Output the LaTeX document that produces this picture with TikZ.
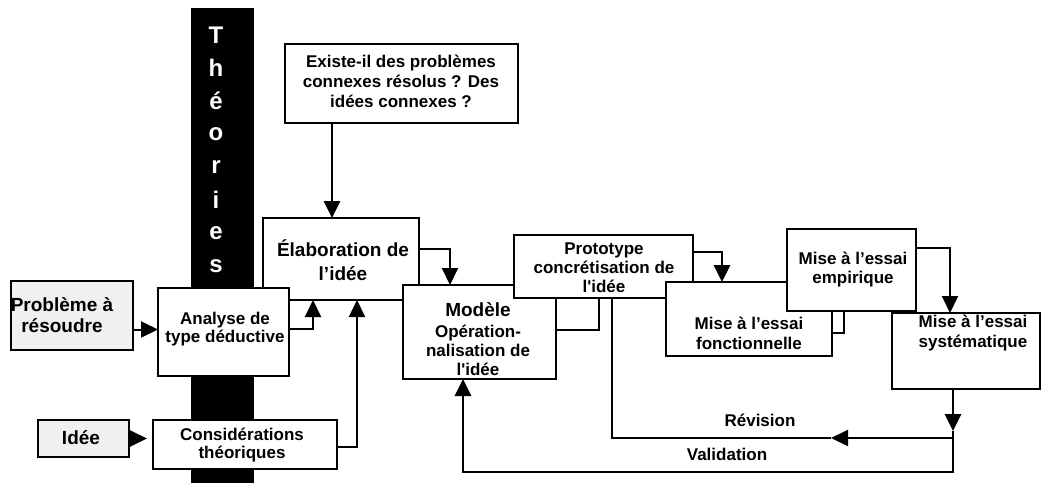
\documentclass[tikz,border=0pt]{standalone}
\usepackage{fontspec}
\setmainfont{Liberation Sans}
\usetikzlibrary{arrows.meta}
\begin{document}
\begin{tikzpicture}[x=1pt,y=-1pt,
  box/.style={draw=black,line width=1.2pt,fill=white,inner sep=0pt,outer sep=0pt,anchor=north west},
  grey box/.style={box,fill=black!6},
  txt/.style={align=center,inner sep=0pt,font=\bfseries\fontsize{17}{19}\selectfont},
  big txt/.style={align=center,inner sep=0pt,font=\bfseries\fontsize{19}{22}\selectfont},
  bar letter/.style={text=white,inner sep=0pt,font=\bfseries\fontsize{24}{24}\selectfont},
  link/.style={line width=2pt},
  heavy link/.style={line width=2.8pt},
  tip/.style={-{Triangle[width=16pt,length=17pt]}},
]
\useasboundingbox[fill=white] (0,0) rectangle (1042,483);

% vertical band "Théories"
\fill[black] (191,8) rectangle (254,483);
\foreach \ch [count=\i] in {T,h,é,o,r,i,e,s}
  \node[bar letter] (theo\i) at (216,{35+33*(\i-1)}) {\ch};

% boxes and their texts
\node[box,minimum width=233,minimum height=79] (existe) at (285,44) {};
\node[txt,font=\bfseries\fontsize{17}{20}\selectfont] (existe-t) at (401,81)
  {Existe-il des problèmes\\connexes résolus ? Des\\idées connexes ?};

\node[box,minimum width=156,minimum height=82] (elab) at (263,218) {};
\node[big txt,font=\bfseries\fontsize{19}{24}\selectfont] (elab-t) at (343,260) {Élaboration de\\l’idée};

\node[box,minimum width=153,minimum height=94] (modele) at (403,285) {};
\node[big txt] (modele-t) at (478,310) {Modèle};
\node[txt] (modele-s) at (478,350) {Opération-\\nalisation de\\l\textquotesingle idée};

\node[box,minimum width=179,minimum height=63] (proto) at (514,235) {};
\node[txt] (proto-t) at (604,268) {Prototype\\concrétisation de\\l\textquotesingle idée};

\node[box,minimum width=166,minimum height=74] (fonct) at (666,282) {};
\node[txt,font=\bfseries\fontsize{17}{20}\selectfont] (fonct-t) at (749,333) {Mise à l’essai\\fonctionnelle};

\node[box,minimum width=129,minimum height=82] (empir) at (787,229) {};
\node[txt] (empir-t) at (853,270) {Mise à l’essai\\empirique};

\node[box,minimum width=148,minimum height=76] (sys) at (892,313) {};
\node[txt,font=\bfseries\fontsize{17}{20}\selectfont] (sys-t) at (973,333) {Mise à l’essai\\systématique};

\node[box,minimum width=131,minimum height=88] (analyse) at (158,288) {};
\node[txt,font=\bfseries\fontsize{17}{18}\selectfont] (analyse-t) at (225,329) {Analyse de\\type déductive};

\node[box,minimum width=184,minimum height=49] (consid) at (153,420) {};
\node[txt,font=\bfseries\fontsize{17}{18}\selectfont] (consid-t) at (242,445) {Considérations\\théoriques};

\node[grey box,minimum width=122,minimum height=69] (probleme) at (11,281) {};
\node[big txt,font=\bfseries\fontsize{19}{21}\selectfont] (probleme-t) at (62,315) {Problème à\\résoudre};

\node[grey box,minimum width=91,minimum height=37] (idee) at (38,420) {};
\node[big txt] (idee-t) at (81,438) {Idée};

% connectors
\draw[heavy link,tip] ([xshift=47pt]existe.south west) -- ([xshift=69pt]elab.north west);

\coordinate (pa) at ([yshift=-14pt]probleme.east);
\draw[link,tip] (pa) -- (pa -| analyse.west);
\draw[link,tip,shorten >=6pt] (idee.east) -- (idee.east -| consid.west);

\draw[link,tip] ([yshift=3pt]analyse.east) -| ([xshift=50pt]elab.south west);
\draw[link,tip] ([yshift=-2pt]consid.east) -| ([xshift=94pt]elab.south west);

\draw[link,tip] ([yshift=10pt]elab.east) -| ([xshift=47pt]modele.north west);
\draw[heavy link] ([xshift=85pt]proto.south west) |- ([yshift=2pt]modele.east);
\draw[heavy link,tip] ([yshift=14.5pt]proto.east) -| ([xshift=56pt]fonct.north west);
\draw[link] ([xshift=57pt]empir.south west) |- ([yshift=-51pt]fonct.north east);
\draw[link,tip] ([yshift=22pt]empir.east) -| ([xshift=58pt]sys.north west);

% revision and validation loops
\coordinate (split) at (953,431);
\coordinate (revjoint) at (953,438);
\coordinate (revtip) at (831,438);
\coordinate (valjoint) at (953,472);
\draw[heavy link,tip] ([xshift=61pt]sys.south west) -- (split);
\draw[heavy link,tip] (split) -- (valjoint) -| ([xshift=60pt]modele.south west);
\draw[link,tip] (revjoint) -- (revtip);
\draw[link] (revtip) -| ([xshift=98pt]proto.south west);

\node[txt] (revision) at (760,420) {Révision};
\node[txt] (validation) at (727,454) {Validation};
\end{tikzpicture}
\end{document}
